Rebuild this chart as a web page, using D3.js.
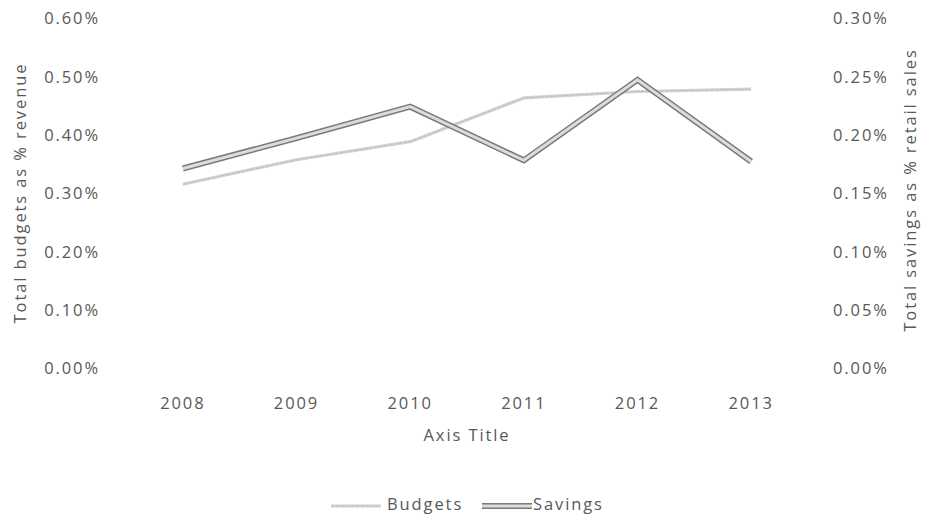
<!DOCTYPE html>
<html>
<head>
<meta charset="utf-8">
<script src="https://cdn.jsdelivr.net/npm/d3@7"></script>
<style>
  html, body { margin: 0; padding: 0; background: #fff; }
  svg text { font-family: "Open Sans", sans-serif; fill: #585858; letter-spacing: 1.9px; }
</style>
</head>
<body>
<svg id="chart" width="925" height="517"></svg>
<script>
// Categories and series values
const years = ["2008", "2009", "2010", "2011", "2012", "2013"];
const budgets = [0.315, 0.357, 0.388, 0.463, 0.474, 0.478];   // % of revenue (left axis)
const savings = [0.171, 0.197, 0.224, 0.178, 0.247, 0.177];   // % of retail sales (right axis)
const leftTicks = [0, 0.1, 0.2, 0.3, 0.4, 0.5, 0.6];
const rightTicks = [0, 0.05, 0.1, 0.15, 0.2, 0.25, 0.3];
const seriesNames = ["Budgets", "Savings"];

const svg = d3.select("#chart");
const plot = { left: 126, right: 808, top: 18, bottom: 368 };

const x = d3.scaleBand().domain(years).range([plot.left, plot.right]);
const yL = d3.scaleLinear().domain([0, 0.6]).range([plot.bottom, plot.top]);
const yR = d3.scaleLinear().domain([0, 0.3]).range([plot.bottom, plot.top]);

const fmt = v => v.toFixed(2) + "%";

// Left axis
const gL = svg.append("g").attr("transform", `translate(${plot.left - 26},0)`)
  .call(d3.axisLeft(yL).tickValues(leftTicks).tickFormat(fmt).tickSize(0).tickPadding(0));
gL.select(".domain").remove();
gL.selectAll("text").attr("font-size", 16.5).attr("dy", "0.35em").attr("fill", "#585858");

// Right axis
const gR = svg.append("g").attr("transform", `translate(${plot.right + 25},0)`)
  .call(d3.axisRight(yR).tickValues(rightTicks).tickFormat(fmt).tickSize(0).tickPadding(0));
gR.select(".domain").remove();
gR.selectAll("text").attr("font-size", 16.5).attr("dy", "0.35em").attr("fill", "#585858");

// Bottom axis (category labels only)
const gX = svg.append("g").attr("transform", `translate(0,${plot.bottom + 35})`)
  .call(d3.axisBottom(x).tickSize(0).tickPadding(0));
gX.select(".domain").remove();
gX.selectAll("text").attr("font-size", 16.5).attr("dy", "0.35em").attr("fill", "#585858");

// Axis titles
svg.append("text").attr("x", 467).attr("y", 437).attr("text-anchor", "middle")
  .attr("dominant-baseline", "middle").attr("font-size", 16.5).text("Axis Title");
svg.append("text").attr("transform", "translate(22,193) rotate(-90)")
  .attr("text-anchor", "middle").attr("dominant-baseline", "middle")
  .attr("font-size", 16.5).text("Total budgets as % revenue");
svg.append("text").attr("transform", "translate(912,190) rotate(-90)")
  .attr("text-anchor", "middle").attr("dominant-baseline", "middle")
  .attr("font-size", 16.5).text("Total savings as % retail sales");

const cx = d => x(d) + x.bandwidth() / 2;

// Budgets line (light textured stroke)
const lineL = d3.line().x((d, i) => cx(years[i])).y(d => yL(d));
svg.append("path").datum(budgets).attr("d", lineL)
  .attr("fill", "none").attr("stroke", "#d2d2d2").attr("stroke-width", 3.2)
  .attr("stroke-linejoin", "round");
svg.append("path").datum(budgets).attr("d", lineL)
  .attr("fill", "none").attr("stroke", "#bdbdbd").attr("stroke-width", 1)
  .attr("stroke-dasharray", "3 2").attr("stroke-linejoin", "round");

// Savings line (outlined double stroke)
const lineR = d3.line().x((d, i) => cx(years[i])).y(d => yR(d));
svg.append("path").datum(savings).attr("d", lineR)
  .attr("fill", "none").attr("stroke", "#7a7a7a").attr("stroke-width", 6)
  .attr("stroke-linejoin", "miter");
svg.append("path").datum(savings).attr("d", lineR)
  .attr("fill", "none").attr("stroke", "#dcdcdc").attr("stroke-width", 3)
  .attr("stroke-linejoin", "miter");

// Legend
const legendY = 506;
const lg = svg.append("g");
lg.append("line").attr("x1", 331).attr("x2", 381).attr("y1", legendY).attr("y2", legendY)
  .attr("stroke", "#d2d2d2").attr("stroke-width", 3.2);
lg.append("line").attr("x1", 331).attr("x2", 381).attr("y1", legendY).attr("y2", legendY)
  .attr("stroke", "#bdbdbd").attr("stroke-width", 1).attr("stroke-dasharray", "3 2");
lg.append("text").attr("x", 387).attr("y", legendY).attr("dominant-baseline", "middle")
  .attr("font-size", 16.5).text(seriesNames[0]);
lg.append("line").attr("x1", 482).attr("x2", 532).attr("y1", legendY).attr("y2", legendY)
  .attr("stroke", "#7a7a7a").attr("stroke-width", 6);
lg.append("line").attr("x1", 482).attr("x2", 532).attr("y1", legendY).attr("y2", legendY)
  .attr("stroke", "#dcdcdc").attr("stroke-width", 3);
lg.append("text").attr("x", 533).attr("y", legendY).attr("dominant-baseline", "middle")
  .attr("font-size", 16.5).text(seriesNames[1]);
</script>
</body>
</html>
